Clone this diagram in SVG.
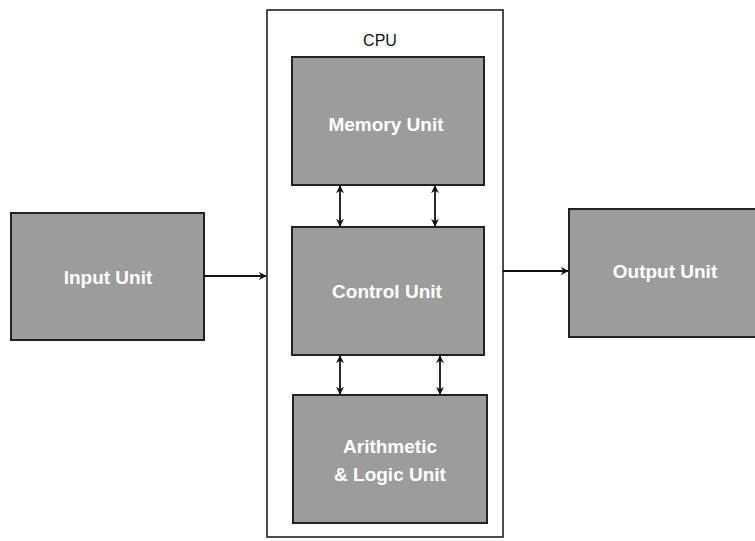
<svg xmlns="http://www.w3.org/2000/svg" width="755" height="541" viewBox="0 0 755 541">
<style>
.unit{fill:#9c9c9c;stroke:#222;stroke-width:2}
.lbl{font-family:"Liberation Sans",Arial,sans-serif;font-size:19px;font-weight:bold;fill:#fff;text-anchor:middle}
.con{stroke:#111;stroke-width:1.8;fill:none}
</style>
<defs>
<marker id="ah" viewBox="0 0 10 10" refX="9" refY="5" markerWidth="8" markerHeight="8" orient="auto-start-reverse" markerUnits="userSpaceOnUse">
<path d="M0,0 L10,5 L0,10 L3,5 z" fill="#111"/>
</marker>
</defs>
<rect width="755" height="541" fill="#fff"/>
<g id="cpu">
<rect x="267" y="10" width="236" height="527" fill="none" stroke="#222" stroke-width="1.6"/>
<text x="380" y="46" font-family="'Liberation Sans',Arial,sans-serif" font-size="16" fill="#111" text-anchor="middle">CPU</text>
</g>
<g id="memory">
<rect class="unit" x="292" y="57" width="192" height="128"/>
<text class="lbl" x="386" y="131">Memory Unit</text>
</g>
<g id="control">
<rect class="unit" x="292" y="227" width="192" height="128"/>
<text class="lbl" x="387" y="298">Control Unit</text>
</g>
<g id="alu">
<rect class="unit" x="293" y="395" width="194" height="128"/>
<text class="lbl" x="390" y="453">Arithmetic</text>
<text class="lbl" x="390" y="481">&amp; Logic Unit</text>
</g>
<g id="input">
<rect class="unit" x="11" y="213" width="193" height="127"/>
<text class="lbl" x="108" y="284">Input Unit</text>
</g>
<g id="output">
<rect class="unit" x="569" y="209" width="190" height="128"/>
<text class="lbl" x="665" y="278">Output Unit</text>
</g>
<g id="connectors">
<line class="con" x1="204" y1="276" x2="266" y2="276" marker-end="url(#ah)"/>
<line class="con" x1="503" y1="271" x2="568" y2="271" marker-end="url(#ah)"/>
<line class="con" x1="340" y1="186" x2="340" y2="226" marker-start="url(#ah)" marker-end="url(#ah)"/>
<line class="con" x1="435" y1="186" x2="435" y2="226" marker-start="url(#ah)" marker-end="url(#ah)"/>
<line class="con" x1="340" y1="356" x2="340" y2="394" marker-start="url(#ah)" marker-end="url(#ah)"/>
<line class="con" x1="440" y1="356" x2="440" y2="394" marker-start="url(#ah)" marker-end="url(#ah)"/>
</g>
</svg>
